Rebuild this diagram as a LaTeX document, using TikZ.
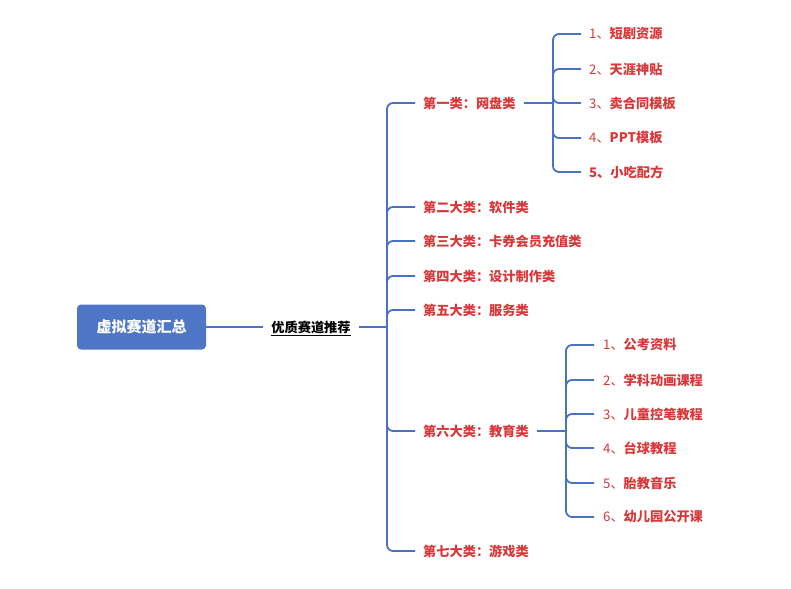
\documentclass[tikz,border=0pt]{standalone}
\usepackage{fontspec}
\setmainfont{Noto Sans CJK SC}
\usetikzlibrary{positioning}
\definecolor{linkblue}{HTML}{4A72C4}
\definecolor{rootblue}{HTML}{4F76C6}
\definecolor{itemred}{HTML}{D8383A}

\begin{document}
\begin{tikzpicture}[x=1pt, y=-1pt,
	link/.style={draw=linkblue, line width=1.8pt, rounded corners=6pt},
	cat/.style={anchor=west, inner xsep=8pt, text=itemred, font=\fontsize{13.2}{15}\selectfont\bfseries},
	item/.style={cat}]
		\useasboundingbox (0,0) rectangle (791,588);
		\node[fill=rootblue, rounded corners=4pt, minimum width=129pt, minimum height=45pt, text=white, font=\fontsize{15}{17}\selectfont\bfseries](root) at (141.5,327) {虚拟赛道汇总};
		\node[inner xsep=8pt, font=\fontsize{13.2}{15}\selectfont\bfseries](pick) at (311,328) {\underline{优质赛道推荐}};
		\coordinate (j0) at (387,327);
		\draw[link] (root.east) -- (root.east -| pick.west);
		\draw[link] (pick.east |- j0) -- (j0);
		%Level 2
		\foreach \n/\y/\t in {c1/103/第一类：网盘类, c2/207/第二大类：软件类, c3/241/第三大类：卡券会员充值类,
			c4/276/第四大类：设计制作类, c5/310/第五大类：服务类, c6/431/第六大类：教育类, c7/551/第七大类：游戏类}{
			\node[cat](\n) at (415,\y) {\t};
			\draw[link] (j0) |- (\n.west);}
		%Level 3
		\coordinate (j1) at (553,103);
		\draw[link] (c1.east) -- (j1);
		\foreach \n/\y/\k/\t in {a1/34/1/短剧资源, a2/69/2/天涯神贴, a3/103/3/卖合同模板, a4/138/4/PPT模板}{
			\node[item](\n) at (581,\y) {{\mdseries\k、}\t};
			\draw[link] (j1) |- (\n.west);}
		\node[item](a5) at (581,172) {5、小吃配方};
		\draw[link] (j1) |- (a5.west);
		\coordinate (j6) at (566,431);
		\draw[link] (c6.east) -- (j6);
		\foreach \n/\y/\k/\t in {b1/345/1/公考资料, b2/380/2/学科动画课程, b3/414/3/儿童控笔教程,
			b4/448/4/台球教程, b5/483/5/胎教音乐, b6/517/6/幼儿园公开课}{
			\node[item, inner xsep=9pt](\n) at (594,\y) {{\mdseries\k、}\t};
			\draw[link] (j6) |- (\n.west);}
	\end{tikzpicture}
\end{document}
